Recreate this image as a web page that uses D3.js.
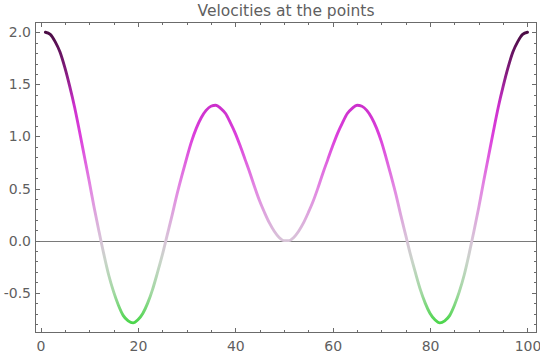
<!DOCTYPE html>
<html>
<head>
<meta charset="utf-8">
<script src="https://cdn.jsdelivr.net/npm/d3@7"></script>
<style>
  html, body { margin: 0; padding: 0; background: #fff; }
  svg { display: block; }
  text { font-family: "DejaVu Sans", sans-serif; fill: #5f5f5f; }
</style>
</head>
<body>
<svg id="chart" width="540" height="355"></svg>
<script>
// ---- data ----
const title = "Velocities at the points";
const pointIndex = d3.range(1, 101);
const velocityFirstHalf = [
  2.00, 1.98, 1.91, 1.81, 1.66, 1.48, 1.28, 1.05, 0.81, 0.57,
  0.32, 0.09, -0.13, -0.33, -0.49, -0.62, -0.72, -0.77, -0.79, -0.76,
  -0.70, -0.60, -0.47, -0.31, -0.14, 0.05, 0.24, 0.44, 0.62, 0.79,
  0.95, 1.08, 1.18, 1.25, 1.29, 1.30, 1.27, 1.22, 1.13, 1.03,
  0.91, 0.78, 0.65, 0.51, 0.38, 0.27, 0.17, 0.09, 0.03, 0.00
];
const velocitySecondHalf = [
  0.00, 0.03, 0.09, 0.17, 0.27, 0.38, 0.51, 0.65, 0.78, 0.91,
  1.03, 1.13, 1.22, 1.27, 1.30, 1.29, 1.25, 1.18, 1.08, 0.95,
  0.79, 0.62, 0.44, 0.24, 0.05, -0.14, -0.31, -0.47, -0.60, -0.70,
  -0.76, -0.79, -0.77, -0.72, -0.62, -0.49, -0.33, -0.13, 0.09, 0.32,
  0.57, 0.81, 1.05, 1.28, 1.48, 1.66, 1.81, 1.91, 1.98, 2.00
];
const velocities = velocityFirstHalf.concat(velocitySecondHalf);
const xMajorTicks = [0, 20, 40, 60, 80, 100];
const yMajorTicks = [-0.5, 0.0, 0.5, 1.0, 1.5, 2.0];
const yTickLabels = ["-0.5", "0.0", "0.5", "1.0", "1.5", "2.0"];
// colour stops: value -> colour
const colorValues = [-0.79, -0.5, -0.2, 0.0, 0.5, 1.0, 1.3, 1.6, 2.0];
const colorStops = ["#4cd64c", "#a2d8a2", "#c8d4c8", "#d8c4d8", "#e288e2", "#dc40dc", "#cc30cc", "#861c80", "#4a0c44"];

const data = pointIndex.map((x, i) => ({ x, v: velocities[i] }));

// ---- layout ----
const svg = d3.select("#chart");
const frame = { left: 35.5, right: 536.5, top: 22.5, bottom: 332.5 };

const x = d3.scaleLinear().domain([-1.03, 101.85]).range([frame.left, frame.right]);
const y = d3.scaleLinear().domain([-0.882, 2.094]).range([frame.bottom, frame.top]);

const axisColor = "#6b6b6b";

// title
svg.append("text")
  .attr("x", 286).attr("y", 15.5)
  .attr("text-anchor", "middle")
  .style("font-size", "15.5px")
  .style("fill", "#5f5f5f")
  .text(title);

// gradient by value
const defs = svg.append("defs");
const grad = defs.append("linearGradient")
  .attr("id", "vgrad")
  .attr("gradientUnits", "userSpaceOnUse")
  .attr("x1", 0).attr("x2", 0)
  .attr("y1", y(colorValues[0])).attr("y2", y(colorValues[colorValues.length - 1]));
const vmin = colorValues[0], vmax = colorValues[colorValues.length - 1];
colorValues.forEach((v, i) => {
  grad.append("stop")
    .attr("offset", (v - vmin) / (vmax - vmin))
    .attr("stop-color", colorStops[i]);
});

// zero axis line
svg.append("line")
  .attr("x1", frame.left).attr("x2", frame.right)
  .attr("y1", Math.round(y(0)) + 0.5).attr("y2", Math.round(y(0)) + 0.5)
  .attr("stroke", "#7a7a7a").attr("stroke-width", 1);

// curve
svg.append("path")
  .datum(data)
  .attr("fill", "none")
  .attr("stroke", "url(#vgrad)")
  .attr("stroke-width", 2.9)
  .attr("stroke-linejoin", "round")
  .attr("stroke-linecap", "round")
  .attr("d", d3.line().x(d => x(d.x)).y(d => y(d.v)).curve(d3.curveMonotoneX));

// frame with inward ticks using d3 axes
const xMinor = d3.range(0, 101, 5);
const yMinor = d3.range(-8, 21, 1).map(d => d / 10);

function addAxis(axisGen, transform, ticks, size, labels, fmt) {
  const g = svg.append("g").attr("transform", transform)
    .call(axisGen.tickValues(ticks).tickSize(size).tickSizeOuter(0).tickFormat(labels ? fmt : () => ""));
  g.select(".domain").remove();
  g.selectAll("line").attr("stroke", axisColor).attr("shape-rendering", "crispEdges");
  g.selectAll("text").style("font-size", "14px").style("fill", "#5f5f5f").attr("font-family", null);
  return g;
}

// bottom
addAxis(d3.axisBottom(x), `translate(0,${frame.bottom})`, xMinor.filter(d => d % 20 !== 0), -2.5, false);
const bx = addAxis(d3.axisBottom(x), `translate(0,${frame.bottom})`, xMajorTicks, -4.5, true, d => d);
bx.selectAll("text").attr("y", 8.5).attr("dy", "0.71em");
// top
addAxis(d3.axisTop(x), `translate(0,${frame.top})`, xMinor.filter(d => d % 20 !== 0), -2.5, false);
addAxis(d3.axisTop(x), `translate(0,${frame.top})`, xMajorTicks, -4.5, false);
// left
addAxis(d3.axisLeft(y), `translate(${frame.left},0)`, yMinor.filter(d => !yMajorTicks.some(t => Math.abs(t - d) < 1e-9)), -2.5, false);
const ly = addAxis(d3.axisLeft(y), `translate(${frame.left},0)`, yMajorTicks, -4.5, true, (d, i) => yTickLabels[i]);
ly.selectAll("text").attr("x", -4.5);
// right
addAxis(d3.axisRight(y), `translate(${frame.right},0)`, yMinor.filter(d => !yMajorTicks.some(t => Math.abs(t - d) < 1e-9)), -2.5, false);
addAxis(d3.axisRight(y), `translate(${frame.right},0)`, yMajorTicks, -4.5, false);

// frame rectangle
svg.append("rect")
  .attr("x", frame.left).attr("y", frame.top)
  .attr("width", frame.right - frame.left).attr("height", frame.bottom - frame.top)
  .attr("fill", "none").attr("stroke", axisColor).attr("stroke-width", 1);
</script>
</body>
</html>
